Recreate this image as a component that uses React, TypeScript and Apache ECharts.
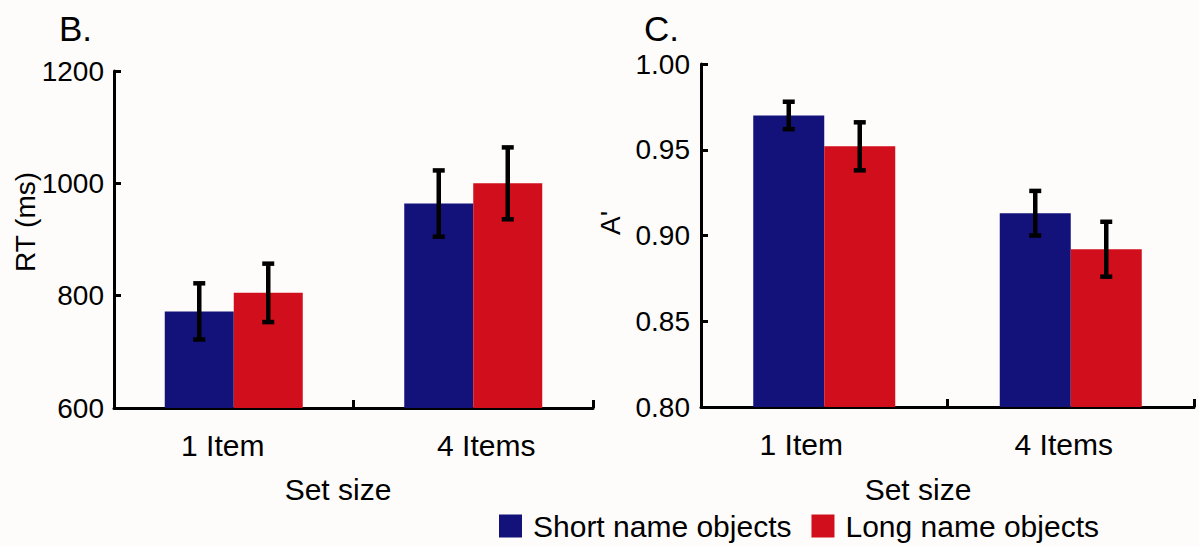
import React, { useEffect, useRef } from "react";
import * as echarts from "echarts";

const categories = ["1 Item", "4 Items"];
const seriesNames = ["Short name objects", "Long name objects"];
const rtShort = [772, 964];
const rtLong = [805, 1000];
const rtShortErr = [50, 59];
const rtLongErr = [52, 64];
const aShort = [0.970, 0.913];
const aLong = [0.952, 0.892];
const aShortErr = [0.008, 0.013];
const aLongErr = [0.014, 0.016];
const rtAxis = { min: 600, max: 1200, interval: 200 };
const aAxis = { min: 0.8, max: 1.0, interval: 0.05 };

const FONT = "Liberation Sans";
const BLUE = "#12127a";
const RED = "#d10e1b";

// horizontal nudges of category labels (px), per chart
const labelShift = [[-11, 13], [-23, -7]];

function errData(means: number[], errs: number[], s: number) {
  return means.map((m, i) => [i, m - errs[i], m + errs[i], s]);
}

function errorRender(barWidth: number) {
  return (params: any, api: any) => {
    const cat = api.value(0);
    const lo = api.value(1);
    const hi = api.value(2);
    const s = api.value(3);
    const p1 = api.coord([cat, lo]);
    const p2 = api.coord([cat, hi]);
    const x = p1[0] + (s === 0 ? -barWidth / 2 : barWidth / 2);
    const cap = 6;
    const st = { stroke: "#000", lineWidth: 4.5 };
    return {
      type: "group",
      children: [
        { type: "line", shape: { x1: x, y1: p1[1], x2: x, y2: p2[1] }, style: st },
        { type: "line", shape: { x1: x - cap, y1: p1[1], x2: x + cap, y2: p1[1] }, style: st },
        { type: "line", shape: { x1: x - cap, y1: p2[1], x2: x + cap, y2: p2[1] }, style: st },
      ],
    };
  };
}

const axisLineStyle = { show: true, lineStyle: { color: "#000", width: 3 } };
const tickStyle = { show: true, inside: true, length: 7, lineStyle: { color: "#000", width: 3 } };
const labelStyle = { color: "#000", fontSize: 28, fontFamily: FONT };

export default function App() {
  const ref = useRef<HTMLDivElement>(null);
  useEffect(() => {
    document.body.style.margin = "0";
    const chart = echarts.init(ref.current!, null, { renderer: "svg" });
    const xAxisBase = (gridIndex: number) => {
      const rich: any = {};
      labelShift[gridIndex].forEach((d, i) => {
        rich["l" + i] = {
          fontSize: 30,
          fontFamily: FONT,
          color: "#000",
          padding: d < 0 ? [0, -2 * d, 0, 0] : [0, 0, 0, 2 * d],
        };
      });
      return {
        type: "category",
        gridIndex,
        data: categories,
        axisLine: axisLineStyle,
        axisTick: { ...tickStyle, length: 8 },
        axisLabel: {
          ...labelStyle,
          fontSize: 30,
          margin: 22,
          formatter: (v: string, i: number) => `{l${i}|${v}}`,
          rich,
        },
      };
    };
    chart.setOption({
      animation: false,
      backgroundColor: "#fdfcfa",
      textStyle: { fontFamily: FONT },
      grid: [
        { left: 114, top: 71, width: 479, height: 337 },
        { left: 701, top: 64, width: 493, height: 343 },
      ],
      xAxis: [xAxisBase(0), xAxisBase(1)],
      yAxis: [
        {
          type: "value",
          gridIndex: 0,
          min: rtAxis.min,
          max: rtAxis.max,
          interval: rtAxis.interval,
          splitLine: { show: false },
          axisLine: axisLineStyle,
          axisTick: tickStyle,
          axisLabel: { ...labelStyle, margin: 10, formatter: (v: number) => String(v) },
        },
        {
          type: "value",
          gridIndex: 1,
          min: aAxis.min,
          max: aAxis.max,
          interval: aAxis.interval,
          splitLine: { show: false },
          axisLine: axisLineStyle,
          axisTick: tickStyle,
          axisLabel: { ...labelStyle, margin: 11, formatter: (v: number) => v.toFixed(2) },
        },
      ],
      legend: {
        data: seriesNames,
        left: 494,
        top: 506,
        icon: "rect",
        itemWidth: 23,
        itemHeight: 23,
        itemGap: 20,
        textStyle: { fontSize: 30, fontFamily: FONT, color: "#000", padding: [0, 0, 0, 6] },
      },
      series: [
        { type: "bar", name: seriesNames[0], xAxisIndex: 0, yAxisIndex: 0, data: rtShort, barWidth: 69, barGap: "0%", itemStyle: { color: BLUE } },
        { type: "bar", name: seriesNames[1], xAxisIndex: 0, yAxisIndex: 0, data: rtLong, barWidth: 69, barGap: "0%", itemStyle: { color: RED } },
        { type: "bar", name: seriesNames[0], xAxisIndex: 1, yAxisIndex: 1, data: aShort, barWidth: 71, barGap: "0%", itemStyle: { color: BLUE } },
        { type: "bar", name: seriesNames[1], xAxisIndex: 1, yAxisIndex: 1, data: aLong, barWidth: 71, barGap: "0%", itemStyle: { color: RED } },
        {
          type: "custom", name: "rtErr", xAxisIndex: 0, yAxisIndex: 0, z: 10,
          renderItem: errorRender(69),
          data: [...errData(rtShort, rtShortErr, 0), ...errData(rtLong, rtLongErr, 1)],
        },
        {
          type: "custom", name: "aErr", xAxisIndex: 1, yAxisIndex: 1, z: 10,
          renderItem: errorRender(71),
          data: [...errData(aShort, aShortErr, 0), ...errData(aLong, aLongErr, 1)],
        },
      ],
      graphic: [
        { type: "text", left: 59, top: 11, style: { text: "B.", fontSize: 35, fontFamily: FONT, fill: "#000" } },
        { type: "text", left: 644, top: 11, style: { text: "C.", fontSize: 35, fontFamily: FONT, fill: "#000" } },
        { type: "text", x: 25, y: 222, rotation: Math.PI / 2, style: { text: "RT (ms)", fontSize: 28, fontFamily: FONT, fill: "#000", align: "center", verticalAlign: "middle" } },
        { type: "text", x: 610, y: 223, rotation: Math.PI / 2, style: { text: "A'", fontSize: 28, fontFamily: FONT, fill: "#000", align: "center", verticalAlign: "middle" } },
        { type: "text", x: 338, y: 489, style: { text: "Set size", fontSize: 30, fontFamily: FONT, fill: "#000", align: "center", verticalAlign: "middle" } },
        { type: "text", x: 918, y: 489, style: { text: "Set size", fontSize: 30, fontFamily: FONT, fill: "#000", align: "center", verticalAlign: "middle" } },
      ],
    });
    return () => chart.dispose();
  }, []);
  return <div ref={ref} style={{ position: "fixed", left: 0, top: 0, width: 1199, height: 546 }} />;
}
